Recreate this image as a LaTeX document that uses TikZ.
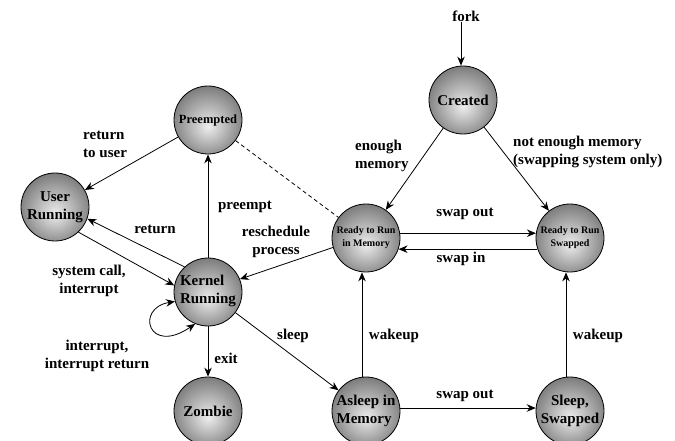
\documentclass[tikz,border=0pt]{standalone}
\usepackage{fontspec}
\setmainfont{Liberation Serif}
\usetikzlibrary{arrows.meta}
\definecolor{statelight}{HTML}{EDEDED}
\definecolor{statedark}{HTML}{585858}
\pgfdeclareradialshading{statefill}{\pgfpoint{0bp}{-5bp}}{%
  color(0bp)=(statelight); color(36bp)=(statedark); color(50bp)=(statedark)}
\begin{document}
\begin{tikzpicture}[x=1pt,y=-1pt,
  state/.style={circle,draw=black,line width=0.8pt,shading=statefill,
    minimum size=68pt,inner sep=0pt,align=center,
    font=\bfseries\fontsize{15}{18}\selectfont},
  smallstate/.style={state,font=\bfseries\fontsize{12.5}{14}\selectfont},
  tinystate/.style={state,font=\bfseries\fontsize{10}{13}\selectfont},
  lbl/.style={inner sep=0pt,align=center,
    font=\bfseries\fontsize{15}{18}\selectfont},
  tip/.tip={Stealth[length=9pt,width=7.5pt]},
  flow/.style={-tip,line width=0.8pt},
  twoway/.style={tip-tip,line width=0.8pt},
]
\useasboundingbox (0,0) rectangle (675,441);

% process states
\node[state] (created) at (463,100) {Created};
\node[smallstate] (preempted) at (208,120) {Preempted};
\node[state] (user) at (55,207) {User\\Running};
\node[state,align=left] (kernel) at (208,292) {Kernel\\Running\rule[-5pt]{0pt}{0pt}};
\node[state] (zombie) at (208,411) {Zombie};
\node[tinystate] (readymem) at (366,238) {Ready to Run\\in Memory};
\node[tinystate] (readyswap) at (570,238) {Ready to Run\\Swapped};
\node[state,align=left] (asleep) at (366,411) {Asleep in\\Memory};
\node[state] (sleepswap) at (570,411) {Sleep,\\Swapped};

% process creation
\node[lbl] (fork) at (466,16) {fork};
\coordinate (forkstart) at (461,22);
\draw[flow] (forkstart) -- (forkstart |- created.north);

% transitions
\draw[flow] (preempted) -- (user);
\draw[flow] (kernel) -- (preempted);
\draw[flow] (kernel.133) -- (user.-20);
\draw[flow] (user.-47) -- (kernel.169);
\draw[twoway] (kernel.196) .. controls (135,308) and (148,356) .. (kernel.248);
\draw[flow] (kernel) -- (zombie);
\draw[flow] (kernel) -- (asleep);
\draw[flow] (readymem.196) -- (kernel.22);
\draw[dashed,line width=0.8pt,dash pattern=on 4pt off 3pt] (preempted) -- (readymem);
\draw[flow] (created) -- (readymem);
\draw[flow] (created) -- (readyswap);
\draw[flow] (readymem.8) -- (readyswap.172);
\draw[flow] (readyswap.199) -- (readymem.-19);
\draw[flow] ([xshift=-4pt]asleep.north) -- ([xshift=-4pt]readymem.south);
\draw[flow] ([xshift=-4pt]sleepswap.north) -- ([xshift=-4pt]readyswap.south);
\draw[flow] (asleep.5) -- (sleepswap.175);

% transition labels
\node[lbl,align=left,anchor=west] (lreturnuser) at (83,144) {return\\to user};
\node[lbl] (lpreempt) at (245,207) {preempt};
\node[lbl] (lreturn) at (155,229) {return};
\node[lbl] (lresched) at (276,242) {reschedule\\process};
\node[lbl] (lsyscall) at (89,281) {system call,\\interrupt};
\node[lbl] (lintr) at (97,356) {interrupt,\\interrupt return};
\node[lbl] (lsleep) at (293,336) {sleep};
\node[lbl] (lexit) at (226,358) {exit};
\node[lbl,align=left,anchor=west] (lenough) at (355,156) {enough\\memory};
\node[lbl,align=left,anchor=west] (lnotenough) at (513,152) {not enough memory\\(swapping system only)};
\node[lbl] (lswapout) at (465,214) {swap out};
\node[lbl] (lswapin) at (461,259) {swap in};
\node[lbl] (lwakemem) at (394,336) {wakeup};
\node[lbl] (lwakeswap) at (598,336) {wakeup};
\node[lbl] (lswapout2) at (465,396) {swap out};
\end{tikzpicture}
\end{document}
